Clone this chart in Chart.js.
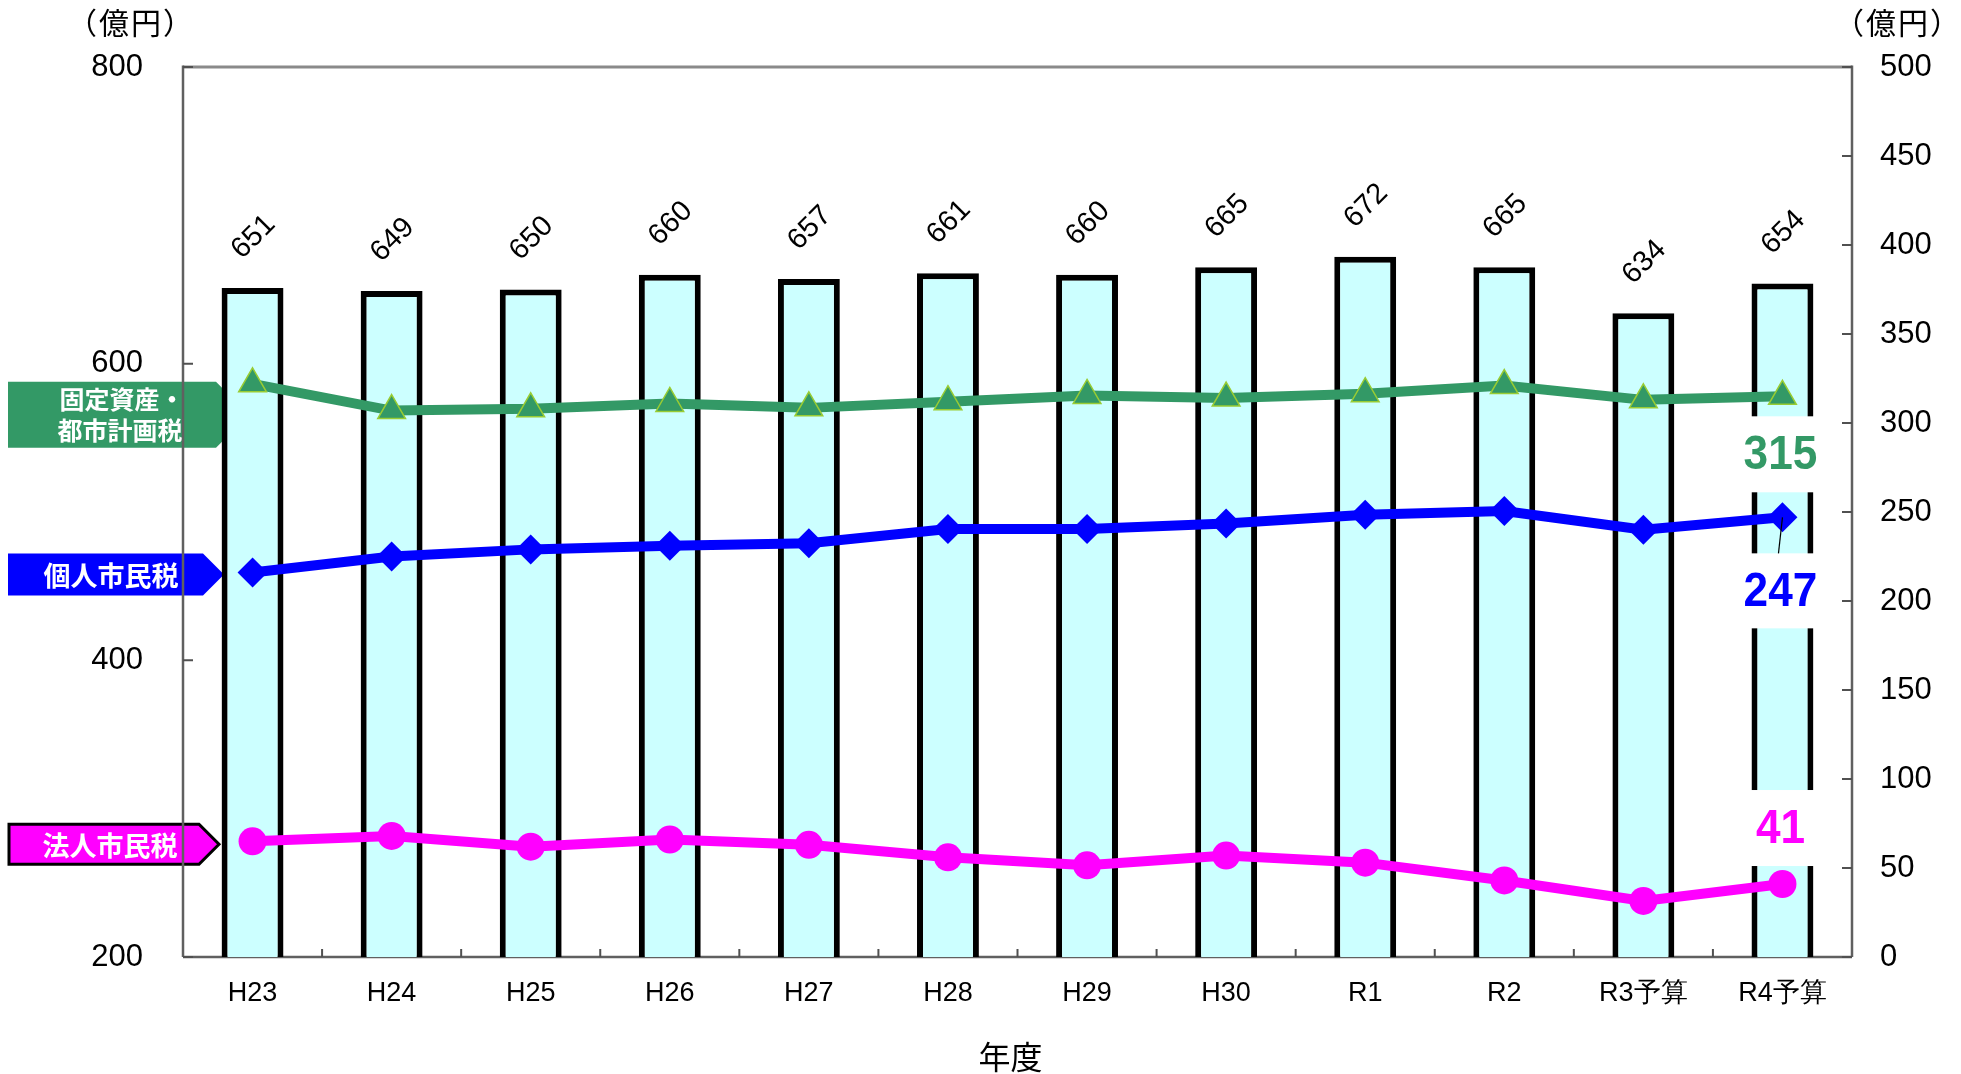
<!DOCTYPE html>
<html><head><meta charset="utf-8">
<script src="https://cdn.jsdelivr.net/npm/chart.js@4.4.0/dist/chart.umd.min.js"></script>
<style>html,body{margin:0;padding:0;background:#fff;}#wrap{width:1961px;height:1074px;position:relative;}</style>
</head><body><div id="wrap"><canvas id="c"></canvas></div>
<script>
const categories = ['H23','H24','H25','H26','H27','H28','H29','H30','R1','R2','R3予算','R4予算'];
const totalTax = [651,649,650,660,657,661,660,665,672,665,634,654];
const fixedAssetTax = [322,307,308,311,308.5,312,315.5,314,316.5,321,313,315];
const individualTax = [216,225,229,231,232.5,240.5,240.5,243.5,248.5,250.5,240,247];
const corporateTax = [65,68,62,66,63,56,51.5,57,53,43,31.5,41];
const leftAxisRange = [200, 800, 200];
const rightAxisRange = [0, 500, 50];
const seriesNames = ['固定資産・\n都市計画税','個人市民税','法人市民税'];
const unitLabel = '（億円）';
const xTitle = '年度';

const GREEN = '#339966', BLUE = '#0000FF', MAGENTA = '#FF00FF';
const NUMFONT = '"Liberation Sans", Arial, sans-serif';
const JPFONT = '"Noto Sans CJK JP", "Liberation Sans", sans-serif';

function drawTag(ctx, pts, fill, stroke, lw){
  ctx.beginPath();
  pts.forEach((p,i)=> i?ctx.lineTo(p[0],p[1]):ctx.moveTo(p[0],p[1]));
  ctx.closePath();
  ctx.fillStyle = fill; ctx.fill();
  if (stroke){ ctx.strokeStyle = stroke; ctx.lineWidth = lw; ctx.lineJoin='miter'; ctx.stroke(); }
}

const deco = {
  id:'deco',
  beforeDatasetsDraw(chart){
    const {ctx, chartArea:a, scales:{x,y,y1}} = chart;
    ctx.save();
    const gy = y1.getPixelForValue(fixedAssetTax[0]) + 31;
    drawTag(ctx, [[8,gy-33],[216,gy-33],[224,gy-25],[224,gy+25],[216,gy+33],[8,gy+33]], GREEN);
    const by = y1.getPixelForValue(individualTax[0]) + 2;
    drawTag(ctx, [[8,by-21],[203,by-21],[224,by],[203,by+21],[8,by+21]], BLUE);
    const my = y1.getPixelForValue(corporateTax[0]) + 3;
    drawTag(ctx, [[9,my-20],[199,my-20],[219,my],[199,my+20],[9,my+20]], MAGENTA, '#000', 3);
    ctx.fillStyle = '#fff'; ctx.textAlign='center'; ctx.textBaseline='middle';
    const gl = seriesNames[0].split('\n');
    ctx.font = 'bold 25px ' + JPFONT;
    ctx.fillText(gl[0], 122, gy-15);
    ctx.fillText(gl[1], 120, gy+16);
    ctx.font = 'bold 27px ' + JPFONT;
    ctx.fillText(seriesNames[1], 111, by+1);
    ctx.fillText(seriesNames[2], 110, my+1);

    ctx.lineCap = 'butt';
    ctx.strokeStyle = '#8a8a8a'; ctx.lineWidth = 3;
    ctx.beginPath(); ctx.moveTo(a.left, a.top); ctx.lineTo(a.right, a.top); ctx.stroke();
    ctx.strokeStyle = '#606060'; ctx.lineWidth = 2.5;
    ctx.beginPath();
    ctx.moveTo(a.left, a.top-1.5); ctx.lineTo(a.left, a.bottom);
    ctx.moveTo(a.right, a.top-1.5); ctx.lineTo(a.right, a.bottom);
    ctx.moveTo(a.left, a.bottom); ctx.lineTo(a.right, a.bottom);
    ctx.stroke();
    ctx.lineWidth = 2; ctx.strokeStyle = '#505050';
    ctx.beginPath();
    y.ticks.forEach(t=>{ const p = y.getPixelForValue(t.value); ctx.moveTo(a.left, p); ctx.lineTo(a.left+10, p); });
    y1.ticks.forEach(t=>{ const p = y1.getPixelForValue(t.value); ctx.moveTo(a.right, p); ctx.lineTo(a.right-10, p); });
    for (let i=1;i<categories.length;i++){
      const p = (x.getPixelForValue(i-1)+x.getPixelForValue(i))/2;
      ctx.moveTo(p, a.bottom); ctx.lineTo(p, a.bottom-8);
    }
    ctx.stroke();
    ctx.restore();
  },
  afterDatasetsDraw(chart){
    const {ctx, scales:{x,y,y1}} = chart;
    ctx.save();
    const bars = chart.getDatasetMeta(0).data;
    ctx.fillStyle = '#000'; ctx.font = '29px ' + NUMFONT;
    ctx.textAlign='center'; ctx.textBaseline='middle';
    bars.forEach((el,i)=>{
      ctx.save();
      ctx.translate(el.x+1, el.y-51);
      ctx.rotate(-Math.PI/4);
      ctx.fillText(String(totalTax[i]), 0, 0);
      ctx.restore();
    });
    const n = categories.length-1;
    const cx = x.getPixelForValue(n);
    const items = [
      {v: fixedAssetTax[n], c: GREEN, box:[20,96], txt:58},
      {v: individualTax[n], c: BLUE, box:[36,111], txt:74.5},
      {v: corporateTax[n], c: MAGENTA, box:[-94,-18], txt:-55}
    ];
    items.forEach(it=>{
      const py = y1.getPixelForValue(it.v);
      ctx.fillStyle = '#fff';
      ctx.fillRect(cx-50, py+it.box[0], 100, it.box[1]-it.box[0]);
    });
    const pb = y1.getPixelForValue(individualTax[n]);
    ctx.strokeStyle = '#000'; ctx.lineWidth = 1.2;
    ctx.beginPath(); ctx.moveTo(cx, pb); ctx.lineTo(cx-4, pb+36); ctx.stroke();
    items.forEach(it=>{
      const py = y1.getPixelForValue(it.v);
      ctx.save();
      ctx.translate(cx-2, py+it.txt);
      ctx.scale(0.92,1);
      ctx.fillStyle = it.c;
      ctx.font = 'bold 48px ' + NUMFONT;
      ctx.textAlign='center'; ctx.textBaseline='middle';
      ctx.fillText(String(it.v), 0, 1);
      ctx.restore();
    });
    ctx.restore();
  },
  afterDraw(chart){
    const {ctx, chartArea:a} = chart;
    ctx.save();
    ctx.fillStyle = '#000'; ctx.textAlign='center'; ctx.textBaseline='middle';
    ctx.font = '30px ' + JPFONT;
    ctx.letterSpacing = '2px';
    ctx.fillText(unitLabel, 131, 23);
    ctx.fillText(unitLabel, 1898, 23);
    ctx.letterSpacing = '0px';
    ctx.font = '32px ' + JPFONT;
    ctx.fillText(xTitle, (a.left+a.right)/2 - 7, 1057);
    ctx.restore();
  }
};

new Chart(document.getElementById('c'), {
  data: {
    labels: categories,
    datasets: [
      {type:'bar', data: totalTax, yAxisID:'y', order:10,
       backgroundColor:'#CCFFFF', borderColor:'#000', borderWidth:6, borderSkipped:false,
       barPercentage:0.445, categoryPercentage:1},
      {type:'line', data: fixedAssetTax, yAxisID:'y1', order:3,
       borderColor:GREEN, borderWidth:10, pointStyle:'triangle', pointRadius:16,
       pointBackgroundColor:GREEN, pointBorderColor:'#99CC33', pointBorderWidth:1.5, tension:0},
      {type:'line', data: individualTax, yAxisID:'y1', order:2,
       borderColor:BLUE, borderWidth:10, pointStyle:'rectRot', pointRadius:15,
       pointBackgroundColor:BLUE, pointBorderColor:BLUE, pointBorderWidth:0, tension:0},
      {type:'line', data: corporateTax, yAxisID:'y1', order:1,
       borderColor:MAGENTA, borderWidth:10, pointStyle:'circle', pointRadius:14,
       pointBackgroundColor:MAGENTA, pointBorderColor:MAGENTA, pointBorderWidth:0, tension:0}
    ]
  },
  options: {
    responsive:true, maintainAspectRatio:false, animation:false,
    layout:{padding:{top:67,left:0,right:0,bottom:0}},
    plugins:{legend:{display:false}, tooltip:{enabled:false}},
    scales:{
      x:{type:'category', offset:true,
         grid:{display:false, drawTicks:false}, border:{display:false},
         ticks:{color:'#000', font:{size:27, family:NUMFONT}, padding:20, maxRotation:0, autoSkip:false},
         afterFit(s){ s.height = 117; }},
      y:{position:'left', min:leftAxisRange[0], max:leftAxisRange[1],
         grid:{display:false, drawTicks:false}, border:{display:false},
         ticks:{stepSize:leftAxisRange[2], color:'#000', font:{size:31, family:NUMFONT}, padding:40},
         afterFit(s){ s.width = 183; }},
      y1:{position:'right', min:rightAxisRange[0], max:rightAxisRange[1],
         grid:{display:false, drawTicks:false}, border:{display:false},
         ticks:{stepSize:rightAxisRange[2], color:'#000', font:{size:31, family:NUMFONT}, padding:28},
         afterFit(s){ s.width = 109; }}
    }
  },
  plugins:[deco]
});
</script></body></html>
